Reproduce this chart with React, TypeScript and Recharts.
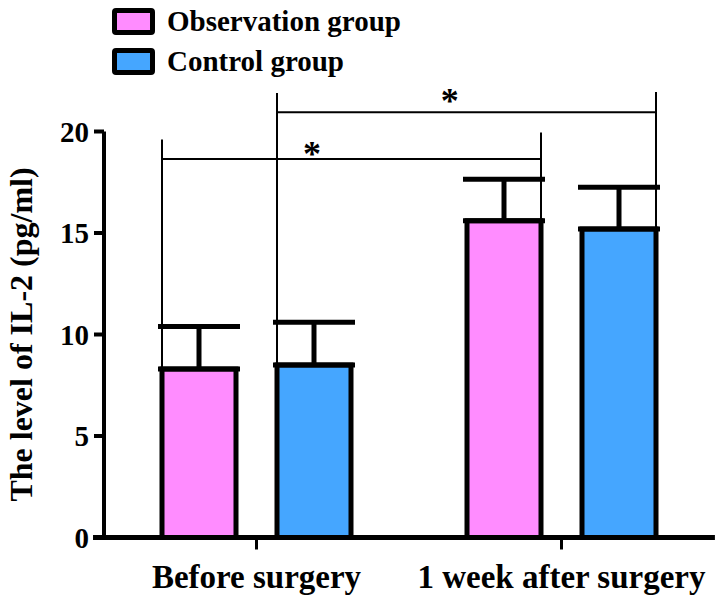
import React from "react";
import {
  BarChart,
  Bar,
  XAxis,
  YAxis,
  ErrorBar,
  ReferenceLine,
  ReferenceDot,
  Legend,
  Label,
} from "recharts";

const categories = ["Before surgery", "1 week after surgery"];
const observation = [8.3, 15.6];
const observationErr = [2.1, 2.05];
const control = [8.5, 15.2];
const controlErr = [2.1, 2.05];
const yTicks = [0, 5, 10, 15, 20];

const seriesNames = ["Observation group", "Control group"];
const seriesColors = ["#FF8CFF", "#45A6FF"];

// significance brackets: series index, height of the bar line, tops of end ticks, star spot
const bracketSeries = [0, 1];
const bracketLevel = [18.65, 20.95];
const bracketLeftTop = [19.6, 21.9];
const bracketRightTop = [19.95, 21.95];
const starX = [0.341, 0.567]; // share of plot width
const starY = [19.2, 21.8];

const FONT = '"Liberation Serif", "Times New Roman", serif';
const W = 724;
const H = 604;
const LEFT = 104;
const RIGHT = 10;
const BAR = 74;
const GAP = 41;
const PLOT_W = W - LEFT - RIGHT;
const BAND = PLOT_W / categories.length;
const OFFSET = Math.floor((BAND - 2 * BAR - GAP) / 2);

const data = categories.map((name, i) => ({
  name,
  obs: observation[i],
  obsErr: [0, observationErr[i]],
  ctl: control[i],
  ctlErr: [0, controlErr[i]],
}));
const values = [observation, control];

// bar edges as a share of plot width (hidden numeric x axis runs 0..1)
const barLeft = (cat: number, s: number) =>
  (cat * BAND + OFFSET + s * (BAR + GAP)) / PLOT_W;
const barRight = (cat: number, s: number) => barLeft(cat, s) + BAR / PLOT_W;

const XTick = ({ x, y, payload }: any) => (
  <text
    x={x}
    y={y + 36}
    textAnchor="middle"
    fontFamily={FONT}
    fontWeight="bold"
    fontSize={33}
    fill="#000"
  >
    {payload.value}
  </text>
);

const Star = ({ cx, cy }: any) => (
  <text
    x={cx}
    y={cy + 18}
    textAnchor="middle"
    fontFamily={FONT}
    fontWeight="bold"
    fontSize={36}
    fill="#000"
  >
    *
  </text>
);

const renderLegend = () => (
  <div
    style={{
      position: "relative",
      width: 420,
      height: 80,
      fontFamily: FONT,
      fontWeight: "bold",
      fontSize: 29,
      color: "#000",
    }}
  >
    {seriesNames.map((name, i) => (
      <div
        key={name}
        style={{
          position: "absolute",
          left: 112,
          top: 8 + i * 40,
          height: 27,
          display: "flex",
          alignItems: "center",
          whiteSpace: "nowrap",
        }}
      >
        <div
          style={{
            width: 33,
            height: 17,
            border: "5px solid #000",
            borderRadius: 4,
            background: seriesColors[i],
          }}
        />
        <span style={{ marginLeft: 12, lineHeight: "27px" }}>{name}</span>
      </div>
    ))}
  </div>
);

export default function App() {
  return (
    <div style={{ position: "absolute", left: 0, top: 0, background: "#fff" }}>
      <BarChart
        width={W}
        height={H}
        data={data}
        margin={{ top: 131.5, right: RIGHT, bottom: 6.5, left: 0 }}
        barSize={BAR}
        barGap={GAP}
      >
        <XAxis
          xAxisId="cat"
          dataKey="name"
          height={60}
          axisLine={false}
          tickLine={{ stroke: "#000", strokeWidth: 3 }}
          tickSize={12}
          tick={<XTick />}
          interval={0}
        />
        <XAxis xAxisId="num" type="number" domain={[0, 1]} hide allowDataOverflow />
        <YAxis
          domain={[0, 20]}
          ticks={yTicks}
          interval={0}
          width={LEFT}
          axisLine={{ stroke: "#000", strokeWidth: 4 }}
          tickLine={{ stroke: "#000", strokeWidth: 4 }}
          tickSize={10}
          tickMargin={5}
          tick={{ fill: "#000", fontSize: 29, fontWeight: "bold", fontFamily: FONT }}
        >
          <Label
            content={({ viewBox }: any) => (
              <text
                x={21}
                y={viewBox.y + viewBox.height / 2}
                transform={`rotate(-90 21 ${viewBox.y + viewBox.height / 2})`}
                textAnchor="middle"
                dominantBaseline="central"
                fontFamily={FONT}
                fontWeight="bold"
                fontSize={32}
                fill="#000"
              >
                The level of IL-2 (pg/ml)
              </text>
            )}
          />
        </YAxis>
        <Legend
          layout="horizontal"
          verticalAlign="middle"
          align="center"
          content={renderLegend}
          wrapperStyle={{ top: 0, left: 0, width: 420, height: 80 }}
        />
        <Bar
          xAxisId="cat"
          dataKey="obs"
          name={seriesNames[0]}
          fill={seriesColors[0]}
          stroke="#000"
          strokeWidth={5}
          isAnimationActive={false}
        >
          <ErrorBar dataKey="obsErr" width={41} strokeWidth={5} stroke="#000" direction="y" />
        </Bar>
        <Bar
          xAxisId="cat"
          dataKey="ctl"
          name={seriesNames[1]}
          fill={seriesColors[1]}
          stroke="#000"
          strokeWidth={5}
          isAnimationActive={false}
        >
          <ErrorBar dataKey="ctlErr" width={41} strokeWidth={5} stroke="#000" direction="y" />
        </Bar>
        <ReferenceLine
          xAxisId="num"
          segment={[
            { x: -0.018, y: 0 },
            { x: 1.0015, y: 0 },
          ]}
          stroke="#000"
          strokeWidth={5}
          ifOverflow="visible"
        />
        {bracketSeries.map((s, i) => {
          const l = barLeft(0, s);
          const r = barRight(1, s);
          return (
            <React.Fragment key={i}>
              <ReferenceLine
                xAxisId="num"
                segment={[
                  { x: l, y: values[s][0] },
                  { x: l, y: bracketLeftTop[i] },
                ]}
                stroke="#000"
                strokeWidth={2}
                ifOverflow="visible"
              />
              <ReferenceLine
                xAxisId="num"
                segment={[
                  { x: l, y: bracketLevel[i] },
                  { x: r, y: bracketLevel[i] },
                ]}
                stroke="#000"
                strokeWidth={2}
                ifOverflow="visible"
              />
              <ReferenceLine
                xAxisId="num"
                segment={[
                  { x: r, y: values[s][1] },
                  { x: r, y: bracketRightTop[i] },
                ]}
                stroke="#000"
                strokeWidth={2}
                ifOverflow="visible"
              />
              <ReferenceDot
                xAxisId="num"
                x={starX[i]}
                y={starY[i]}
                r={0}
                ifOverflow="visible"
                shape={<Star />}
              />
            </React.Fragment>
          );
        })}
      </BarChart>
    </div>
  );
}
